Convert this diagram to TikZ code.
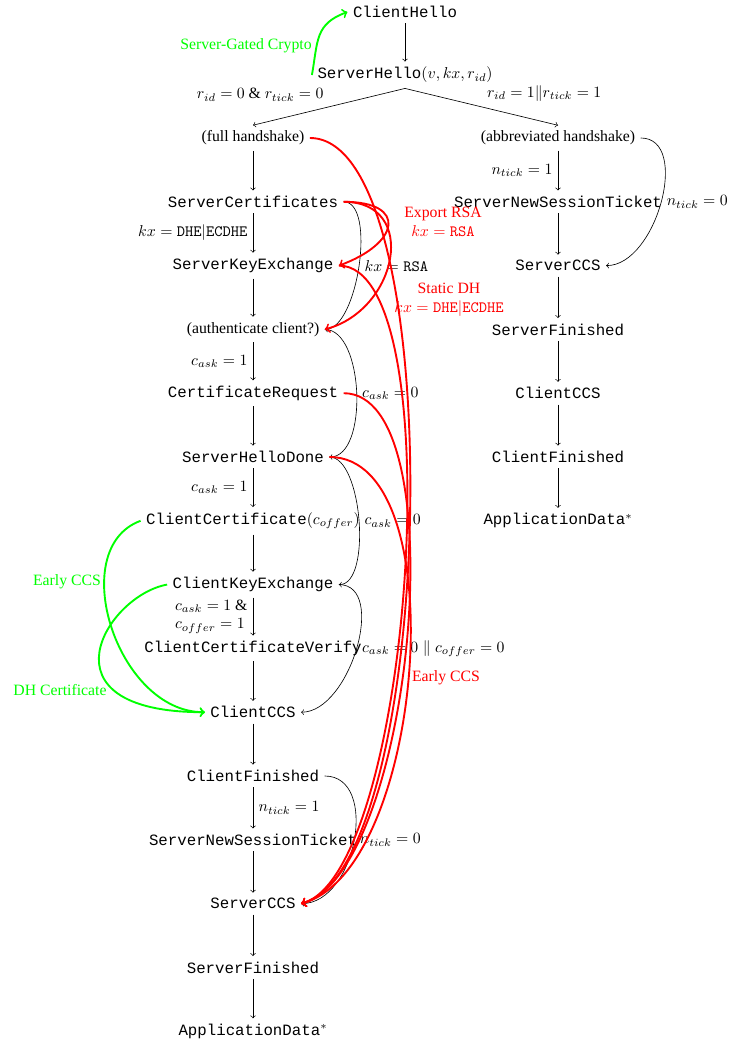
\documentclass[tikz,border=0pt]{standalone}
\usepackage[no-math]{fontspec}
\setmainfont{Liberation Serif}
\newfontfamily\msgfont{Liberation Mono}
\tikzset{%
  every msg/.style={
    font=\msgfont
  },
  msg hs/.style={
    font=\rmfamily
  },
  msg auth/.style={
    font=\rmfamily
  },
  attack/.style={->, red, very thick},
  downgrade/.style={->, green, very thick},
}

\begin{document}
\begin{tikzpicture}[x=0.635pt, y=0.635pt, >=to]
        \useasboundingbox (0,0) rectangle (753,-1043);
        \node [every msg/.try] (ch) at (405,-12) {ClientHello};
        \node [every msg/.try] (sh) at (405,-75) {ServerHello$(v, kx, r_{id})$};

        \foreach \m/\l [count=\y] in {hs/{(full handshake)}, scert/ServerCertificates, ske/ServerKeyExchange, auth/{(authenticate client?)}, creq/CertificateRequest, shd/ServerHelloDone, ccert/{ClientCertificate$(c_{offer})$}, cke/ClientKeyExchange, ccv/ClientCertificateVerify, cccs/ClientCCS, cfin/ClientFinished, snst/ServerNewSessionTicket, sccs/ServerCCS, sfin/ServerFinished, adata/{ApplicationData$^*$}}
            \node [every msg/.try, msg \m/.try] (full-\m) at (253,{-138-63.8*(\y-1)}) {\l};
        \foreach \m/\l [count=\y] in {hs/{(abbreviated handshake)}, snst/ServerNewSessionTicket, sccs/ServerCCS, sfin/ServerFinished, cccs/ClientCCS, cfin/ClientFinished, adata/{ApplicationData$^*$}}
            \node [every msg/.try, msg \m/.try] (abbr-\m) at (558,{-138-63.8*(\y-1)}) {\l};

        \draw [->] (ch) -- (sh);
        \draw [->] (sh.south) -- (full-hs.north) node [midway, above left] {$r_{id} = 0$ \& $r_{tick} = 0$};
        \draw [->] (sh.south) -- (abbr-hs.north) node [midway, above right] {$r_{id} = 1 \| r_{tick} = 1$};

        \foreach \a/\b in {hs/scert, ske/auth, creq/shd, ccert/cke, ccv/cccs, cccs/cfin, snst/sccs, sccs/sfin, sfin/adata}
            \draw [->] (full-\a) -- (full-\b);
        \draw [->] (full-scert) -- (full-ske) node [midway, left] {$kx = \mathtt{DHE}|\mathtt{ECDHE}$};
        \draw [->] (full-auth) -- (full-creq) node [midway, left] {$c_{ask} = 1$};
        \draw [->] (full-shd) -- (full-ccert) node [midway, left] {$c_{ask} = 1$};
        \draw [->] (full-cke) -- (full-ccv) node [midway, left, align=left] {$c_{ask} = 1$ \&\\$c_{offer} = 1$};
        \draw [->] (full-cfin) -- (full-snst) node [midway, right] {$n_{tick} = 1$};

        \foreach \a/\b in {snst/sccs, sccs/sfin, sfin/cccs, cccs/cfin, cfin/adata}
            \draw [->] (abbr-\a) -- (abbr-\b);
        \draw [->] (abbr-hs) -- (abbr-snst) node [midway, left] {$n_{tick} = 1$};

        % skipped messages
        \draw [->] (full-scert.east) to [out=0, in=0, distance=21pt] node [right] {$kx = \mathtt{RSA}$} (full-auth.east);
        \draw [->] (full-auth.east) to [out=0, in=0, distance=25pt] node [right] {$c_{ask} = 0$} (full-shd.east);
        \draw [->] (full-shd.east) to [out=0, in=0, distance=21pt] node [right] {$c_{ask} = 0$} (full-cke.east);
        \draw [->] (full-cke.east) to [out=0, in=0, distance=31pt] node [right] {$c_{ask} = 0 \parallel c_{offer} = 0$} (full-cccs.east);
        \draw [->] (full-cfin.east) to [out=0, in=0, distance=35pt] node [right] {$n_{tick} = 0$} (full-sccs.east);
        \draw [->] (abbr-hs.east) to [out=0, in=0, distance=32pt] node [right] {$n_{tick} = 0$} (abbr-sccs.east);

        % server-side attacks
        \draw [attack] (full-scert.east) to [out=0, in=20, distance=41pt] (full-ske.east);
        \draw [attack] (full-scert.east) to [out=0, in=15, distance=48pt] (full-auth.east);
        \foreach \m/\d in {hs/90, ske/73, creq/73, shd/81}
            \draw [attack] (full-\m.east) to [out=0, in=15, distance=\d pt] (full-sccs.east);
        \node [red, align=center] (lbl-export) at (443,-222) {Export RSA\\$kx = \mathtt{RSA}$};
        \node [red, align=center] (lbl-static) at (449,-300) {Static DH\\$kx = \mathtt{DHE}|\mathtt{ECDHE}$};
        \node [red] (lbl-early) at (446,-678) {Early CCS};

        % client-side attacks
        \draw [downgrade] (sh.west) to [out=80, in=200, distance=22pt] (ch.west);
        \draw [downgrade] (full-ccert.west) to [out=200, in=180, out distance=51pt, in distance=56pt] (full-cccs.west);
        \draw [downgrade] (full-cke.west) to [out=190, in=180, out distance=39pt, in distance=108pt] (full-cccs.west);
        \node [green] (lbl-sgc) at (246,-46) {Server-Gated Crypto};
        \node [green] (lbl-eccs) at (67,-582) {Early CCS};
        \node [green] (lbl-dh) at (60,-690) {DH Certificate};
\end{tikzpicture}
\end{document}
